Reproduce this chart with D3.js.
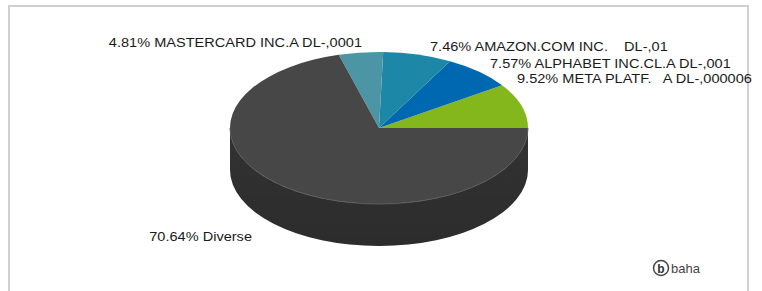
<!DOCTYPE html>
<html>
<head>
<meta charset="utf-8">
<script src="https://cdn.jsdelivr.net/npm/d3@7"></script>
<style>
  body { margin: 0; background: #fff; }
  svg text { font-family: "Liberation Sans", Arial, sans-serif; white-space: pre; }
</style>
</head>
<body>
<div id="chart"></div>
<script>
//Data
var names = ["META PLATF.   A DL-,000006", "ALPHABET INC.CL.A DL-,001", "AMAZON.COM INC.    DL-,01", "MASTERCARD INC.A DL-,0001", "Diverse"];
var shares = [9.52, 7.57, 7.46, 4.81, 70.64];
var topColors = ["#84b71b", "#0068b0", "#1d87a8", "#4b95a4", "#474747"];
var sideColors = ["#5f8613", "#004c80", "#15637a", "#376d78", "#323232"];

//Label placement (layout only)
var labelPos = [
    { x: 517, y: 83, anchor: "start" },
    { x: 490, y: 68, anchor: "start" },
    { x: 430, y: 51, anchor: "start" },
    { x: 362, y: 47, anchor: "end" },
    { x: 252, y: 241, anchor: "end" }
];

//Setup
var width = 762, height = 291;
var cx = 379, cy = 128, rx = 149, ry = 76, depth = 42;
var textStretch = 1.12;

var svg = d3.select("#chart")
    .append("svg")
    .attr("width", width)
    .attr("height", height);

//Frame
svg.append("rect")
    .attr("x", 9)
    .attr("y", 6)
    .attr("width", 739)
    .attr("height", 300)
    .attr("fill", "none")
    .attr("stroke", "#d0d0d0")
    .attr("stroke-width", 2);

var defs = svg.append("defs");
var sideGrad = defs.append("linearGradient")
    .attr("id", "sideShade")
    .attr("x1", 0).attr("x2", 0).attr("y1", 0).attr("y2", 1);
sideGrad.append("stop").attr("offset", "0%").attr("stop-color", "#000").attr("stop-opacity", 0);
sideGrad.append("stop").attr("offset", "100%").attr("stop-color", "#000").attr("stop-opacity", 0.12);

var slices = shares.map((v, i) => ({ name: names[i], value: v, i: i }));

//Pie angles: start at 3 o'clock, go counter-clockwise
var pie = d3.pie()
    .value(d => d.value)
    .sort(null)
    .startAngle(Math.PI / 2)
    .endAngle(Math.PI / 2 - 2 * Math.PI);
var arcs = pie(slices);

//d3 angle -> math angle (ccw from east)
function mathAngle(a) { return Math.PI / 2 - a; }
function px(t) { return cx + rx * Math.cos(t); }
function py(t) { return cy - ry * Math.sin(t); }

//Side walls (only the front half is visible: math angles between PI and 2PI)
var sideG = svg.append("g");
arcs.forEach(a => {
    var t0 = mathAngle(a.startAngle), t1 = mathAngle(a.endAngle);
    var lo = Math.max(t0, Math.PI), hi = Math.min(t1, 2 * Math.PI);
    if (hi <= lo) return;
    var large = (hi - lo) > Math.PI ? 1 : 0;
    var p = "M" + px(lo) + "," + py(lo)
        + " A" + rx + "," + ry + " 0 " + large + " 0 " + px(hi) + "," + py(hi)
        + " L" + px(hi) + "," + (py(hi) + depth)
        + " A" + rx + "," + ry + " 0 " + large + " 1 " + px(lo) + "," + (py(lo) + depth)
        + " Z";
    sideG.append("path").attr("d", p).attr("fill", sideColors[a.data.i]);
    sideG.append("path").attr("d", p).attr("fill", "url(#sideShade)");
});

//Top surface: circular d3 arcs squashed into an ellipse
var arcGen = d3.arc().innerRadius(0).outerRadius(rx);
var topG = svg.append("g")
    .attr("transform", `translate(${cx},${cy}) scale(1,${ry / rx})`);
topG.selectAll("path")
    .data(arcs)
    .join("path")
    .attr("d", arcGen)
    .attr("fill", d => topColors[d.data.i]);

//Subtle rim on the front edge
svg.append("path")
    .attr("d", "M" + px(Math.PI) + "," + py(Math.PI) + " A" + rx + "," + ry + " 0 0 0 " + px(2 * Math.PI) + "," + py(2 * Math.PI))
    .attr("fill", "none")
    .attr("stroke", "#5a5a5a")
    .attr("stroke-width", 1);

//Labels
svg.append("g")
    .selectAll("text")
    .data(arcs)
    .join("text")
    .attr("transform", d => `translate(${labelPos[d.data.i].x},${labelPos[d.data.i].y}) scale(${textStretch},1)`)
    .attr("text-anchor", d => labelPos[d.data.i].anchor)
    .attr("font-size", 13)
    .attr("fill", "#1a1a1a")
    .text(d => d3.format(".2f")(d.data.value) + "% " + d.data.name);

//Logo
var logo = svg.append("g").attr("transform", "translate(661,268)");
logo.append("circle")
    .attr("r", 7.5)
    .attr("fill", "none")
    .attr("stroke", "#444")
    .attr("stroke-width", 1.5);
logo.append("text")
    .attr("x", 0).attr("y", 4.5)
    .attr("text-anchor", "middle")
    .attr("font-size", 12)
    .attr("font-weight", "bold")
    .attr("fill", "#333")
    .text("b");
logo.append("text")
    .attr("x", 10).attr("y", 5)
    .attr("font-size", 13)
    .attr("fill", "#444")
    .text("baha");
</script>
</body>
</html>
